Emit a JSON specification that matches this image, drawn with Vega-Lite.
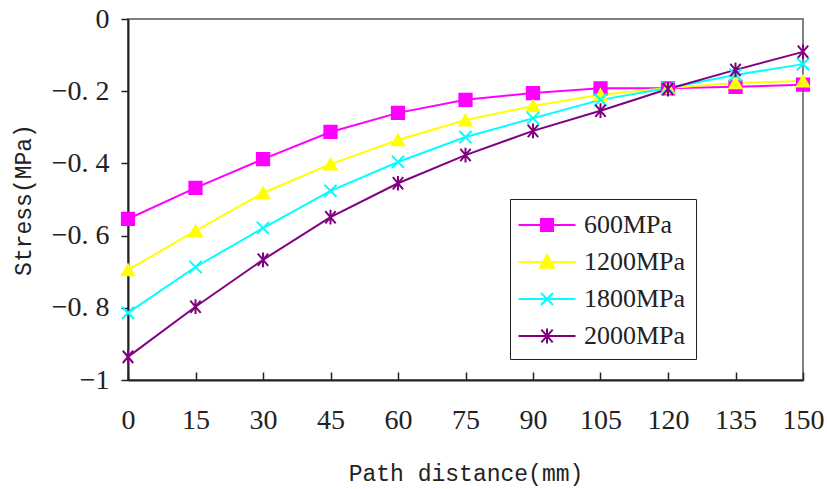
{
  "$schema": "https://vega.github.io/schema/vega-lite/v6.json",
  "width": 675,
  "height": 361,
  "autosize": {"type": "none"},
  "padding": {"left": 128, "top": 19, "right": 24, "bottom": 109},
  "background": "white",
  "config": {
    "view": {"stroke": "#808080", "strokeWidth": 2},
    "axis": {"grid": false, "domainColor": "#222222", "domainWidth": 2, "tickColor": "#222222", "tickWidth": 1.5,
      "labelFont": "Liberation Serif", "labelFontSize": 28, "labelColor": "#222222",
      "titleFont": "Liberation Mono", "titleFontSize": 23, "titleFontWeight": "normal", "titleColor": "#222222"}
  },
  "data": {"values": [
    {"series": "600MPa", "x": 0, "y": -0.554}, {"series": "600MPa", "x": 15, "y": -0.468}, {"series": "600MPa", "x": 30, "y": -0.388},
    {"series": "600MPa", "x": 45, "y": -0.313}, {"series": "600MPa", "x": 60, "y": -0.260}, {"series": "600MPa", "x": 75, "y": -0.224},
    {"series": "600MPa", "x": 90, "y": -0.205}, {"series": "600MPa", "x": 105, "y": -0.192}, {"series": "600MPa", "x": 120, "y": -0.192},
    {"series": "600MPa", "x": 135, "y": -0.188}, {"series": "600MPa", "x": 150, "y": -0.182},
    {"series": "1200MPa", "x": 0, "y": -0.695}, {"series": "1200MPa", "x": 15, "y": -0.587}, {"series": "1200MPa", "x": 30, "y": -0.482},
    {"series": "1200MPa", "x": 45, "y": -0.402}, {"series": "1200MPa", "x": 60, "y": -0.335}, {"series": "1200MPa", "x": 75, "y": -0.280},
    {"series": "1200MPa", "x": 90, "y": -0.241}, {"series": "1200MPa", "x": 105, "y": -0.210}, {"series": "1200MPa", "x": 120, "y": -0.191},
    {"series": "1200MPa", "x": 135, "y": -0.177}, {"series": "1200MPa", "x": 150, "y": -0.172},
    {"series": "1800MPa", "x": 0, "y": -0.814}, {"series": "1800MPa", "x": 15, "y": -0.687}, {"series": "1800MPa", "x": 30, "y": -0.579},
    {"series": "1800MPa", "x": 45, "y": -0.476}, {"series": "1800MPa", "x": 60, "y": -0.396}, {"series": "1800MPa", "x": 75, "y": -0.327},
    {"series": "1800MPa", "x": 90, "y": -0.275}, {"series": "1800MPa", "x": 105, "y": -0.224}, {"series": "1800MPa", "x": 120, "y": -0.191},
    {"series": "1800MPa", "x": 135, "y": -0.155}, {"series": "1800MPa", "x": 150, "y": -0.125},
    {"series": "2000MPa", "x": 0, "y": -0.936}, {"series": "2000MPa", "x": 15, "y": -0.797}, {"series": "2000MPa", "x": 30, "y": -0.667},
    {"series": "2000MPa", "x": 45, "y": -0.549}, {"series": "2000MPa", "x": 60, "y": -0.455}, {"series": "2000MPa", "x": 75, "y": -0.377},
    {"series": "2000MPa", "x": 90, "y": -0.310}, {"series": "2000MPa", "x": 105, "y": -0.254}, {"series": "2000MPa", "x": 120, "y": -0.194},
    {"series": "2000MPa", "x": 135, "y": -0.141}, {"series": "2000MPa", "x": 150, "y": -0.091}
  ]},
  "encoding": {
    "x": {"field": "x", "type": "quantitative", "scale": {"domain": [0, 150], "nice": false},
      "axis": {"title": "Path distance(mm)", "values": [0, 15, 30, 45, 60, 75, 90, 105, 120, 135, 150], "tickSize": -8, "labelPadding": 34, "titlePadding": 28, "labelFlush": false}},
    "y": {"field": "y", "type": "quantitative", "scale": {"domain": [-1, 0], "nice": false},
      "axis": {"title": "Stress(MPa)", "values": [0, -0.2, -0.4, -0.6, -0.8, -1], "format": "~f", "labelExpr": "replace(datum.label, '.', '. ')", "tickSize": 7, "labelPadding": 12, "titlePadding": 16, "labelFlush": false}},
    "color": {"field": "series", "type": "nominal", "sort": ["600MPa", "1200MPa", "1800MPa", "2000MPa"],
      "scale": {"domain": ["600MPa", "1200MPa", "1800MPa", "2000MPa"], "range": ["#ff00ff", "#ffff00", "#00ffff", "#800080"]},
      "legend": {"title": null, "orient": "none", "legendX": 382, "legendY": 180,
        "strokeColor": "#222222", "fillColor": "white", "padding": 10,
        "symbolSize": 900, "symbolStrokeWidth": 2, "symbolOffset": 11, "labelFont": "Liberation Serif", "labelFontSize": 26, "labelColor": "#222222",
        "labelOffset": 21, "rowPadding": 8,
        "encode": {"symbols": {"update": {
          "shape": {"signal": "datum.value === '600MPa' ? 'M-1.9,0H1.9M-0.4,-0.4H0.4V0.4H-0.4Z' : datum.value === '1200MPa' ? 'M-1.9,0H1.9M0,-0.47L0.47,0.38L-0.47,0.38Z' : datum.value === '1800MPa' ? 'M-1.9,0H1.9M-0.4,-0.4L0.4,0.4M-0.4,0.4L0.4,-0.4' : 'M-1.9,0H1.9M-0.38,-0.42L0.38,0.42M-0.38,0.42L0.38,-0.42M0,-0.5V0.5'"},
          "stroke": {"signal": "scale('color', datum.value)"},
          "fill": {"signal": "scale('color', datum.value)"},
          "strokeWidth": {"value": 2}
        }}}}
    }
  },
  "layer": [
    {"mark": {"type": "line", "strokeWidth": 2}},
    {"mark": {"type": "point", "filled": true, "strokeWidth": 2, "size": 150, "opacity": 1},
      "encoding": {
        "shape": {"condition": [
          {"test": "datum.series === '600MPa'", "value": "square"},
          {"test": "datum.series === '1200MPa'", "value": "triangle-up"},
          {"test": "datum.series === '1800MPa'", "value": "M-1,-1L1,1M-1,1L1,-1"}
        ], "value": "M-0.85,-1L0.85,1M-0.85,1L0.85,-1M0,-1.2V1.2"},
        "stroke": {"condition": [
          {"test": "datum.series === '600MPa'", "value": "#ff00ff"},
          {"test": "datum.series === '1200MPa'", "value": "#ffff00"},
          {"test": "datum.series === '1800MPa'", "value": "#00ffff"}
        ], "value": "#800080"}
      }}
  ]
}
